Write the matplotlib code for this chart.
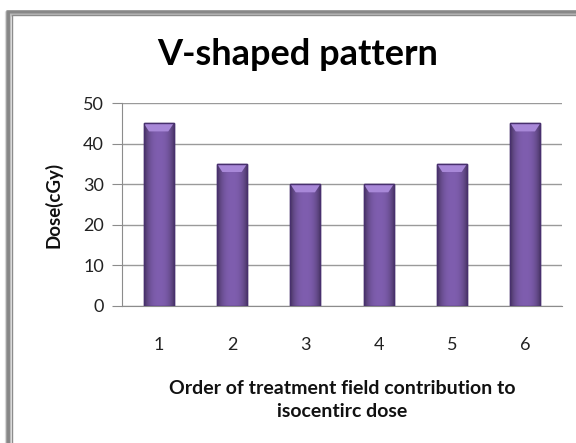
import matplotlib
matplotlib.use("Agg")
import matplotlib.pyplot as plt
import numpy as np
from matplotlib.patches import Rectangle

categories = ["1", "2", "3", "4", "5", "6"]
values = [45, 35, 30, 30, 35, 45]
yticks = [0, 10, 20, 30, 40, 50]

plt.rcParams['font.family'] = ['Lato', 'DejaVu Sans']

fig = plt.figure(figsize=(5.76, 4.43), dpi=100)
fig.patch.set_facecolor("white")

# Frame with shadow
W, H = 576, 443
for i, a in enumerate([0.10, 0.18, 0.28, 0.40, 0.55]):
    off = 5 - i
    fig.add_artist(Rectangle((8 / W, -0.02), 1.0, (H - 10 - off) / H + 0.02,
                             transform=fig.transFigure, facecolor="none", zorder=-5,
                             edgecolor=(0.45, 0.45, 0.45, a), linewidth=1.2 + off * 0.8))
fig.add_artist(Rectangle((12 / W, -0.02), 1.0, (H - 15) / H + 0.02, transform=fig.transFigure,
                         facecolor="white", edgecolor="#8c8c8c", linewidth=1.0, zorder=-4))

ax = fig.add_axes([122 / W, 1 - 306 / H, 440 / W, 203 / H])
ax.patch.set_visible(False)
x = np.arange(len(categories))
bars = ax.bar(x, values, width=0.41, color="#7a5aa8", edgecolor="#4a3470", linewidth=1.0, zorder=3)

# horizontal gradient shading inside bars
grad = np.linspace(0, 1, 64)
shade = 1 - (2 * np.abs(grad - 0.5)) ** 2.5
img = np.zeros((1, 64, 4))
base = np.array([0x7a, 0x5a, 0xa8]) / 255.0
for j, s in enumerate(shade):
    img[0, j, :3] = np.clip(base * (0.58 + 0.46 * s), 0, 1)
    img[0, j, 3] = 1
for b in bars:
    bx, by, bw, bh = b.get_x(), b.get_y(), b.get_width(), b.get_height()
    im = ax.imshow(img, extent=[bx, bx + bw, by, by + bh], aspect="auto", zorder=3.5,
                   interpolation="bilinear")
    im.set_clip_path(b)
    ax.fill([bx, bx + bw, bx + bw * 0.82, bx + bw * 0.18],
            [by + bh, by + bh, by + bh - 2.0, by + bh - 2.0],
            color="#a888d8", zorder=3.6, lw=0)
    ax.add_patch(Rectangle((bx, by), bw, bh, facecolor="none", edgecolor="#48306e", lw=1.0, zorder=3.7))

ax.set_xlim(-0.5, len(categories) - 0.5)
ax.set_ylim(0, 50)
ax.set_yticks(yticks)
ax.set_xticks(x)
ax.set_xticklabels(categories)
ax.yaxis.grid(True, color="#9a9a9a", linewidth=1.0, zorder=0)
ax.set_axisbelow(True)
for s in ["top", "right"]:
    ax.spines[s].set_visible(False)
ax.spines["left"].set_color("#8c8c8c")
ax.spines["bottom"].set_color("#8c8c8c")
ax.tick_params(axis="y", length=7, color="#8c8c8c", labelsize=13, pad=6, labelcolor="#222222")
ax.tick_params(axis="x", length=0, labelsize=13, pad=22, labelcolor="#222222")

ax.set_ylabel("Dose(cGy)", fontsize=13.5, fontweight="bold", labelpad=15, color="#111111")
ax.set_xlabel("Order of treatment field contribution to\nisocentirc dose", fontsize=14,
              fontweight="bold", labelpad=20, color="#111111", linespacing=1.4)

fig.text(298 / W, 1 - 65 / H, "V-shaped pattern", fontsize=26, fontweight="bold",
         ha="center", va="baseline", color="#000000")

fig.savefig("out.png", dpi=100)
